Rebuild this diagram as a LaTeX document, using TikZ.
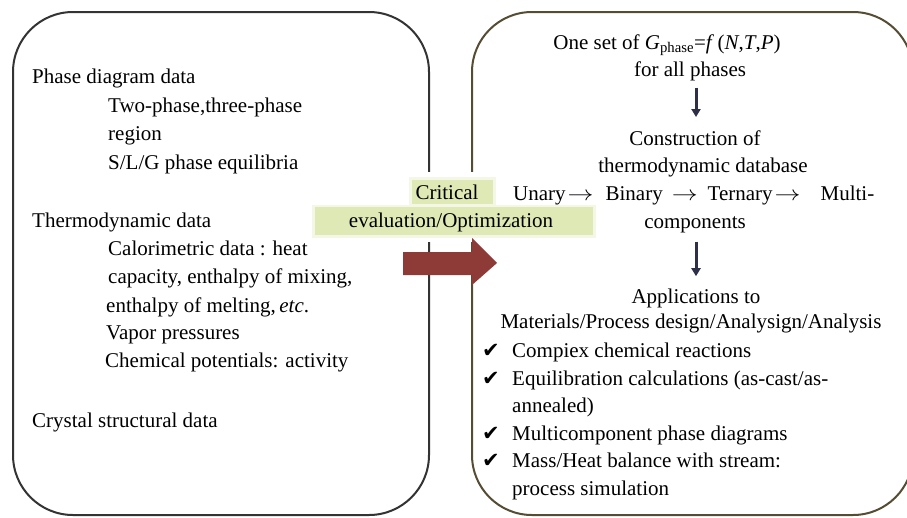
\documentclass[tikz,border=0pt]{standalone}
\usepackage{fontspec}
\setmainfont{Liberation Serif}
\newfontfamily\checkfont{DejaVu Sans}
\usepackage{tikz}
\usetikzlibrary{arrows.meta}
\usepackage{xcolor}
\definecolor{leftline}{rgb}{0.20, 0.20, 0.20}
\definecolor{rightline}{rgb}{0.33, 0.30, 0.20}
\definecolor{hlgreen}{rgb}{0.875, 0.914, 0.710}
\definecolor{ribbon}{rgb}{0.557, 0.231, 0.216}
\definecolor{flowcol}{rgb}{0.18, 0.19, 0.28}
\newcommand{\chainarrow}{\scalebox{1.25}[1]{$\rightarrow$}}

\begin{document}
\begin{tikzpicture}[x=1pt,y=-1pt]

		\tikzset{txt/.style = {anchor=base west, inner sep=0pt, font=\fontsize{21}{25}\selectfont}}
		\tikzset{ctxt/.style = {anchor=base, inner sep=0pt, font=\fontsize{21}{25}\selectfont}}
		\tikzset{tick/.style = {anchor=base west, inner sep=0pt, font=\checkfont\fontsize{21}{24}\selectfont}}
		\tikzset{panel/.style = {line width=2pt, rounded corners=60pt}}
		\tikzset{flow/.style = {-{Triangle[length=8pt,width=9pt]}, line width=3pt, draw=flowcol}}
		\useasboundingbox (0,0) rectangle (907,517);
		% boxes
		\draw[panel, leftline] (13,12) rectangle (429,515);
		\draw[panel, rightline] (472,12) rectangle (913,515);
		% highlight and big arrow
		\fill[white] (405,172) rectangle (600,242);
		\fill[hlgreen!35] (409,177) rectangle (496,206);
		\fill[hlgreen!35] (312,205) rectangle (596,238);
		\fill[hlgreen] (412,180) rectangle (493,204);
		\fill[hlgreen] (315,207) rectangle (593,235);
		\fill[ribbon] (403,252) -- (472,252) -- (472,238) -- (497,263)
			-- (472,285) -- (472,275) -- (403,275) -- cycle;
		\node[ctxt] (crit) at (447,199) {Critical};
		\node[ctxt] (evalopt) at (451,227) {evaluation/Optimization};

		% left box
		\node[txt] (pd) at (32,83) {Phase diagram data};
		\node[txt] (pd1) at (108,112) {Two-phase,three-phase};
		\node[txt] (pd2) at (108,140) {region};
		\node[txt] (pd3) at (108,169) {S/L/G phase equilibria};
		\node[txt] (td) at (32,227) {Thermodynamic data};
		\node[txt] (td1) at (108,255) {Calorimetric data : heat};
		\node[txt] (td2) at (108,283) {capacity, enthalpy of mixing,};
		\node[txt] (td3) at (106,312) {enthalpy of melting,\,\textit{etc}.};
		\node[txt] (td4) at (106,339) {Vapor pressures};
		\node[txt] (td5) at (105,367) {Chemical potentials: activity};
		\node[txt] (cs) at (32,427) {Crystal structural data};

		% right box
		\node[ctxt] (oneset) at (667,49) {One set of \textit{G}\textsubscript{phase}=\textit{f}\,(\textit{N},\textit{T},\textit{P})};
		\node[ctxt] (allph) at (690,76) {for all phases};
		\node[ctxt] (constr) at (695,145) {Construction of};
		\node[ctxt] (tdb) at (703,172) {thermodynamic database};
		\node[txt] (chain) at (513,200) {Unary\hspace{2pt}\chainarrow\hspace{12pt}Binary\hspace{9pt}\chainarrow\hspace{10pt}Ternary\hspace{2pt}\chainarrow\hspace{20pt}Multi-};
		\node[ctxt] (comps) at (695,228) {components};
		\node[ctxt] (apps) at (696,303) {Applications to};
		\node[ctxt] (mats) at (691,328) {Materials/Process design/Analysign/Analysis};
		\coordinate (ax) at (696,0);
		\draw[flow, shorten <=7pt, shorten >=13pt] (allph.south -| ax) -- (constr.north -| ax);
		\draw[flow, shorten <=9pt, shorten >=12pt] (comps.south -| ax) -- (apps.north -| ax);

		% applications
		\node[tick] (c1) at (482,357) {✔};
		\node[txt] (a1) at (512,357) {Compiex chemical reactions};
		\node[tick] (c2) at (482,385) {✔};
		\node[txt] (a2) at (512,385) {Equilibration calculations (as-cast/as-};
		\node[txt] (a2b) at (512,412) {annealed)};
		\node[tick] (c3) at (482,440) {✔};
		\node[txt] (a3) at (512,440) {Multicomponent phase diagrams};
		\node[tick] (c4) at (482,467) {✔};
		\node[txt] (a4) at (512,467) {Mass/Heat balance with stream:};
		\node[txt] (a4b) at (512,495) {process simulation};

\end{tikzpicture}
\end{document}
